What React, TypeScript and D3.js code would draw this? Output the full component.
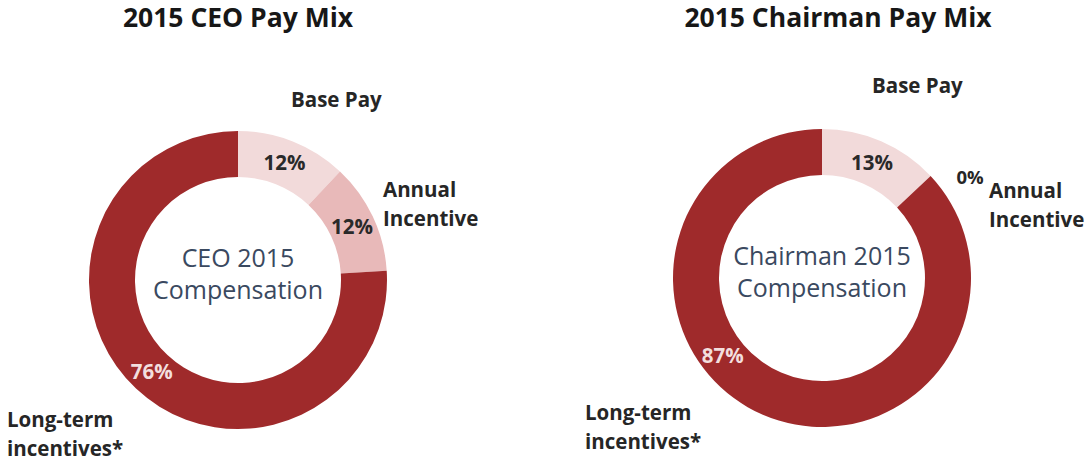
import React from "react";
import * as d3 from "d3";

// data
const categories = ["Base Pay", "Annual Incentive", "Long-term incentives*"];
const ceoValues = [12, 12, 76];
const chairmanValues = [13, 0, 87];
const chartTitles = ["2015 CEO Pay Mix", "2015 Chairman Pay Mix"];
const centerLabels = [
  ["CEO 2015", "Compensation"],
  ["Chairman 2015", "Compensation"],
];

const W = 1090;
const H = 466;
const FONT = "'Open Sans', 'Noto Sans', sans-serif";
const colors = ["#f2dada", "#e8b9b9", "#9f2a2b"];
const labelColors = ["#2a2a2a", "#2a2a2a", "#f3dede"];

interface DonutProps {
  cx: number;
  cy: number;
  values: number[];
  title: string;
  titleX: number;
  center: string[];
  ltiAngleShift: number;
  labels: { base: [number, number]; annual: [number, number]; lti: [number, number]; zero?: [number, number] };
}

function Donut({ cx, cy, values, title, titleX, center, ltiAngleShift, labels }: DonutProps) {
  const outer = 149;
  const inner = 103;
  const pie = d3.pie<number>().sort(null).value((d) => d);
  const arcs = pie(values);
  const arc = d3.arc<d3.PieArcDatum<number>>().innerRadius(inner).outerRadius(outer);
  const mid = (inner + outer) / 2;
  const lab = { fontFamily: FONT, fontWeight: 700, fontSize: 20.5, fill: "#262626" };

  return (
    <g>
      <text x={titleX} y={27} textAnchor="middle" fontFamily={FONT} fontWeight={700} fontSize={26.5} fill="#171717">
        {title}
      </text>
      <g transform={`translate(${cx},${cy})`}>
        {arcs.map((a, i) =>
          a.value > 0 ? <path key={i} d={arc(a) || ""} fill={colors[i]} /> : null
        )}
        {arcs.map((a, i) => {
          if (a.value === 0) return null;
          let ang = (a.startAngle + a.endAngle) / 2;
          if (i === 2) ang += ltiAngleShift;
          const x = Math.sin(ang) * mid;
          const y = -Math.cos(ang) * mid;
          return (
            <text key={"p" + i} x={x} y={y} dy="0.35em" textAnchor="middle" fontFamily={FONT} fontWeight={700} fontSize={20.5} fill={labelColors[i]}>
              {a.value}%
            </text>
          );
        })}
        <text x={0} y={-13} textAnchor="middle" fontFamily={FONT} fontSize={25} fill="#3a4960">
          {center[0]}
        </text>
        <text x={0} y={19} textAnchor="middle" fontFamily={FONT} fontSize={25} fill="#3a4960">
          {center[1]}
        </text>
      </g>
      {values.map((v, i) =>
        v === 0 && labels.zero ? (
          <text key={"z" + i} x={labels.zero[0]} y={labels.zero[1]} textAnchor="middle" {...lab} fontSize={18.5}>
            {v}%
          </text>
        ) : null
      )}
      <text x={labels.base[0]} y={labels.base[1]} {...lab}>
        {categories[0]}
      </text>
      <text x={labels.annual[0]} y={labels.annual[1]} {...lab}>
        <tspan x={labels.annual[0]}>{categories[1].split(" ")[0]}</tspan>
        <tspan x={labels.annual[0]} dy={29}>{categories[1].split(" ")[1]}</tspan>
      </text>
      <text x={labels.lti[0]} y={labels.lti[1]} {...lab}>
        <tspan x={labels.lti[0]}>{categories[2].split(" ")[0]}</tspan>
        <tspan x={labels.lti[0]} dy={29}>{categories[2].split(" ")[1]}</tspan>
      </text>
    </g>
  );
}

export default function App() {
  return (
    <div style={{ position: "absolute", left: 0, top: 0 }}>
      <svg width={W} height={H} style={{ display: "block", background: "#fff" }}>
        <Donut
          cx={238}
          cy={280}
          values={ceoValues}
          title={chartTitles[0]}
          titleX={238}
          center={centerLabels[0]}
          ltiAngleShift={0}
          labels={{ base: [291, 107], annual: [383, 197], lti: [7, 427] }}
        />
        <Donut
          cx={822}
          cy={278}
          values={chairmanValues}
          title={chartTitles[1]}
          titleX={838}
          center={centerLabels[1]}
          ltiAngleShift={0.5}
          labels={{ base: [872, 93], annual: [989, 198], lti: [585, 420], zero: [970, 184] }}
        />
      </svg>
    </div>
  );
}
